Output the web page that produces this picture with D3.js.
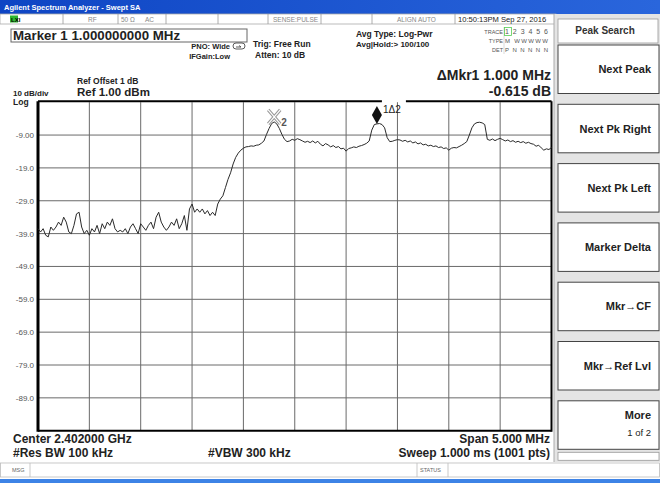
<!DOCTYPE html>
<html>
<head>
    <script src="https://d3js.org/d3.v7.min.js"></script>
    <style>
        body { margin: 0; background: #fff; }
        text { font-family: "Liberation Sans", Arial, sans-serif; }
        .bold { font-weight: bold; }
    </style>
</head>
<body>
    <svg width="660" height="483"></svg>

    <script>
        const width = 660, height = 483;
        const svg = d3.select("svg");

        // trace: 201 samples, 0.025 MHz apart, from 2399.5 MHz (dBm)
        const startMHz = 2399.5, stepMHz = 0.025;
        const traceLevel = [
            -37.5, -38.5, -37.5, -39.5, -40, -37, -38, -37, -35.5, -36.5,
            -34, -35.5, -38.5, -39, -36.5, -33, -32.5, -37, -39, -38,
            -39.5, -37.5, -38.5, -36.5, -39, -36, -37.5, -35.5, -36.5, -34.5,
            -37.5, -38.5, -38, -38.5, -37.5, -39, -37, -36, -37.5, -39,
            -36, -37, -38, -36.5, -35.5, -37.5, -34, -32.5, -35.5, -37,
            -38, -37, -35.5, -36.5, -34.5, -37.5, -36, -33.5, -38, -31.5,
            -30, -32.5, -31.5, -32.5, -31.5, -33, -32, -33.5, -32.5, -33.5,
            -30, -28.5, -27.5, -25, -22.5, -20.5, -17.8, -15.8, -14.5, -13.6,
            -13, -12.6, -12.5, -12.3, -12.4, -12.1, -12.0, -11.5, -10.8, -8.8,
            -7, -5.5, -5.0, -5.6, -7, -8.8, -10.3, -11, -10.8, -10.3,
            -10.6, -10.1, -10.4, -10.8, -11.2, -10.9, -11.3, -10.8, -11.4, -10.9,
            -11.8, -12.3, -11.6, -12, -12.6, -12.2, -12.8, -12.5, -13.2, -13,
            -13.9, -13.1, -12.9, -12.6, -12.8, -12.4, -12.2, -11.9, -11.5, -10.8,
            -7.5, -5.8, -5.6, -5.5, -5.8, -6.8, -9.8, -11, -10.9, -10.6,
            -10.4, -10.5, -10.9, -10.6, -11.1, -10.8, -11.4, -11.1, -11.7, -11.4,
            -12, -11.8, -12.3, -12.1, -12.5, -12.3, -12.8, -12.6, -13.1, -12.9,
            -13.6, -13, -12.8, -12.9, -12.5, -12.1, -11.6, -11, -9, -6.8,
            -5.6, -5.2, -5.1, -5.3, -5.8, -10.3, -10.6, -10.2, -10.7, -10.3,
            -10, -10.4, -10.8, -10.5, -11, -10.7, -11.2, -10.9, -11.3, -11,
            -11.5, -11.2, -11.6, -11.8, -12.4, -12.1, -12.9, -13.6, -13.2, -13.4,
            -12.8
        ];
        const trace = traceLevel.map((v, i) => ({ f: startMHz + i * stepMHz, v: v }));

        // grid and labels
        const freqGrid = [2400, 2400.5, 2401, 2401.5, 2402, 2402.5, 2403, 2403.5, 2404];
        const levelGrid = [-9, -19, -29, -39, -49, -59, -69, -79, -89];
        const levelLabels = ["-9.00", "-19.0", "-29.0", "-39.0", "-49.0", "-59.0", "-69.0", "-79.0", "-89.0"];

        // markers (index into trace)
        const markerIdx = { m1: 132, m2: 92 };

        const softkeys = ["Next Peak", "Next Pk Right", "Next Pk Left", "Marker Delta", "Mkr\u2192CF", "Mkr\u2192Ref Lvl"];

        const plot = { left: 38, right: 551.5, top: 102.2, bottom: 430.7 };
        const x = d3.scaleLinear().domain([2399.5, 2404.5]).range([plot.left, plot.right]);
        const y = d3.scaleLinear().domain([1, -99]).range([plot.top, plot.bottom]);

        // ---- title bar
        const grad = svg.append("defs").append("linearGradient").attr("id", "tb");
        grad.append("stop").attr("offset", "0%").attr("stop-color", "#0e45c4");
        grad.append("stop").attr("offset", "100%").attr("stop-color", "#2a66dc");
        svg.append("rect").attr("x", 0).attr("y", 0).attr("width", width).attr("height", 14).attr("fill", "url(#tb)");
        svg.append("text").attr("x", 4).attr("y", 10).attr("class", "bold")
            .attr("font-size", "7.5px").attr("fill", "#fff").text("Agilent Spectrum Analyzer - Swept SA");

        // ---- status row
        svg.append("rect").attr("x", 0).attr("y", 14).attr("width", 556).attr("height", 10)
            .attr("fill", "#fff").attr("stroke", "#aaa").attr("stroke-width", 0.8);
        svg.append("rect").attr("x", 10).attr("y", 15.5).attr("width", 8).attr("height", 7).attr("fill", "#2fb52f");
        svg.append("text").attr("x", 11).attr("y", 21.5).attr("font-size", "6px").attr("class", "bold").attr("fill", "#000").text("LXI");
        [63, 118, 166, 218, 268, 321, 372, 455].forEach(sx => {
            svg.append("line").attr("x1", sx).attr("x2", sx).attr("y1", 14).attr("y2", 24).attr("stroke", "#999").attr("stroke-width", 0.8);
        });
        const statusTexts = [
            { x: 88, t: "RF" }, { x: 121, t: "50 \u03a9" }, { x: 145, t: "AC" },
            { x: 273, t: "SENSE:PULSE" }, { x: 397, t: "ALIGN AUTO" }
        ];
        statusTexts.forEach(s => svg.append("text").attr("x", s.x).attr("y", 21.5)
            .attr("font-size", "6.5px").attr("fill", "#888").text(s.t));
        svg.append("text").attr("x", 458).attr("y", 21.5).attr("font-size", "7.6px").attr("fill", "#222")
            .text("10:50:13PM Sep 27, 2016");

        // ---- marker readout box
        svg.append("rect").attr("x", 11).attr("y", 29).attr("width", 236).attr("height", 13)
            .attr("fill", "#fff").attr("stroke", "#666").attr("stroke-width", 1);
        svg.append("text").attr("x", 13).attr("y", 40).attr("class", "bold").attr("font-size", "13.3px")
            .attr("fill", "#222").text("Marker 1 1.000000000 MHz");

        svg.append("text").attr("x", 230).attr("y", 49).attr("text-anchor", "end").attr("class", "bold")
            .attr("font-size", "7.5px").attr("fill", "#222").text("PNO: Wide");
        svg.append("text").attr("x", 230).attr("y", 59).attr("text-anchor", "end").attr("class", "bold")
            .attr("font-size", "7.5px").attr("fill", "#222").text("IFGain:Low");
        svg.append("rect").attr("x", 233).attr("y", 43).attr("width", 12).attr("height", 6).attr("rx", 3)
            .attr("fill", "none").attr("stroke", "#333").attr("stroke-width", 0.8);
        svg.append("path").attr("d", "M236,47 L241,47 L239,45.5").attr("fill", "none").attr("stroke", "#333").attr("stroke-width", 0.8);
        svg.append("text").attr("x", 253).attr("y", 47).attr("class", "bold")
            .attr("font-size", "8.5px").attr("fill", "#222").text("Trig: Free Run");
        svg.append("text").attr("x", 255).attr("y", 58).attr("class", "bold")
            .attr("font-size", "8.5px").attr("fill", "#222").text("Atten: 10 dB");

        svg.append("text").attr("x", 356).attr("y", 37).attr("class", "bold")
            .attr("font-size", "8.5px").attr("fill", "#222").text("Avg Type: Log-Pwr");
        svg.append("text").attr("x", 356).attr("y", 47).attr("class", "bold")
            .attr("font-size", "8px").attr("fill", "#222").text("Avg|Hold:> 100/100");

        // trace table
        const tt = [{ y: 34, l: "TRACE", v: "1 2 3 4 5 6" }, { y: 43, l: "TYPE", v: "M WWWWW" }, { y: 52, l: "DET", v: "P N N N N N" }];
        tt.forEach(r => {
            svg.append("text").attr("x", 503).attr("y", r.y).attr("text-anchor", "end")
                .attr("font-size", "5.5px").attr("fill", "#555").text(r.l);
            svg.append("text").attr("x", 505).attr("y", r.y).attr("font-size", r.y === 34 ? "7px" : "6px")
                .attr("fill", "#555").attr("textLength", 43).text(r.v);
        });
        svg.append("line").attr("x1", 504).attr("x2", 504).attr("y1", 27).attr("y2", 54).attr("stroke", "#ccc").attr("stroke-width", 0.7);
        svg.append("rect").attr("x", 504.5).attr("y", 27.5).attr("width", 7).attr("height", 8)
            .attr("fill", "none").attr("stroke", "#5c5").attr("stroke-width", 0.8);

        // ---- reference labels
        svg.append("text").attr("x", 13).attr("y", 96).attr("class", "bold").attr("font-size", "8px")
            .attr("fill", "#222").text("10 dB/div");
        svg.append("text").attr("x", 13).attr("y", 104.5).attr("class", "bold").attr("font-size", "8.5px")
            .attr("fill", "#222").text("Log");
        svg.append("text").attr("x", 77).attr("y", 84).attr("class", "bold").attr("font-size", "8.5px")
            .attr("fill", "#222").text("Ref Offset 1 dB");
        svg.append("text").attr("x", 77).attr("y", 96).attr("class", "bold").attr("font-size", "11.5px")
            .attr("fill", "#222").text("Ref 1.00 dBm");
        svg.append("text").attr("x", 551).attr("y", 80).attr("text-anchor", "end").attr("class", "bold")
            .attr("font-size", "14px").attr("fill", "#222").text("\u0394Mkr1 1.000 MHz");
        svg.append("text").attr("x", 551).attr("y", 96).attr("text-anchor", "end").attr("class", "bold")
            .attr("font-size", "14px").attr("fill", "#222").text("-0.615 dB");

        // ---- plot area
        svg.append("rect").attr("x", plot.left).attr("y", plot.top)
            .attr("width", plot.right - plot.left).attr("height", plot.bottom - plot.top).attr("fill", "#fff");

        svg.append("g").selectAll("line").data(freqGrid).enter().append("line")
            .attr("x1", d => x(d)).attr("x2", d => x(d))
            .attr("y1", plot.top).attr("y2", plot.bottom)
            .attr("stroke", "#6a6a6a").attr("stroke-width", 1);
        svg.append("g").selectAll("line").data(levelGrid).enter().append("line")
            .attr("x1", plot.left).attr("x2", plot.right)
            .attr("y1", d => y(d)).attr("y2", d => y(d))
            .attr("stroke", "#6a6a6a").attr("stroke-width", 1);
        svg.append("g").selectAll("text").data(levelGrid).enter().append("text")
            .attr("x", 34).attr("y", d => y(d) + 3)
            .attr("text-anchor", "end").attr("font-size", "8px").attr("fill", "#555")
            .text((d, i) => levelLabels[i]);

        // border
        const border = svg.append("g").attr("stroke", "#000").attr("fill", "none");
        border.append("line").attr("x1", plot.left).attr("x2", plot.left).attr("y1", plot.top - 1).attr("y2", plot.bottom + 1).attr("stroke-width", 3);
        border.append("line").attr("x1", plot.right).attr("x2", plot.right).attr("y1", plot.top - 1).attr("y2", plot.bottom + 1).attr("stroke-width", 2);
        border.append("line").attr("x1", plot.left).attr("x2", plot.right).attr("y1", plot.bottom).attr("y2", plot.bottom).attr("stroke-width", 2);
        const m1x = x(trace[markerIdx.m1].f);
        border.append("line").attr("x1", plot.left).attr("x2", m1x + 5).attr("y1", plot.top - 1).attr("y2", plot.top - 1).attr("stroke-width", 2);
        border.append("line").attr("x1", m1x + 29).attr("x2", plot.right).attr("y1", plot.top - 1).attr("y2", plot.top - 1).attr("stroke-width", 2);

        // trace
        const line = d3.line().x(d => x(d.f)).y(d => y(d.v));
        svg.append("path").datum(trace).attr("d", line)
            .attr("fill", "none").attr("stroke", "#2a2a2a").attr("stroke-width", 1);

        // marker 2 (hollow X)
        const m2 = trace[markerIdx.m2];
        const m2x = x(m2.f), m2y = y(m2.v) - 5;
        const xPath = `M${m2x - 6},${m2y - 7} L${m2x + 6},${m2y + 7} M${m2x + 6},${m2y - 7} L${m2x - 6},${m2y + 7}`;
        svg.append("path").attr("d", xPath).attr("stroke", "#999").attr("stroke-width", 3.2).attr("fill", "none");
        svg.append("path").attr("d", xPath).attr("stroke", "#fff").attr("stroke-width", 1.2).attr("fill", "none");
        svg.append("text").attr("x", m2x + 7).attr("y", m2y + 9).attr("class", "bold")
            .attr("font-size", "10px").attr("fill", "#555").text("2");

        // marker 1 (diamond)
        const m1 = trace[markerIdx.m1];
        const m1y = y(m1.v);
        svg.append("path")
            .attr("d", `M${m1x},${m1y} L${m1x - 5},${m1y - 9} L${m1x},${m1y - 18} L${m1x + 5},${m1y - 9} Z`)
            .attr("fill", "#111");
        svg.append("text").attr("x", m1x + 6).attr("y", m1y - 11).attr("font-size", "10px").attr("fill", "#222").text("1\u03942");

        // ---- bottom annotations
        const bottomTexts = [
            { x: 13, y: 443, t: "Center 2.402000 GHz", a: "start" },
            { x: 550, y: 443, t: "Span 5.000 MHz", a: "end" },
            { x: 13, y: 457, t: "#Res BW 100 kHz", a: "start" },
            { x: 208, y: 457, t: "#VBW 300 kHz", a: "start" },
            { x: 550, y: 457, t: "Sweep  1.000 ms (1001 pts)", a: "end" }
        ];
        bottomTexts.forEach(b => svg.append("text").attr("x", b.x).attr("y", b.y).attr("text-anchor", b.a)
            .attr("class", "bold").attr("font-size", "12px").attr("fill", "#222").text(b.t));

        // msg / status bar
        svg.append("rect").attr("x", 0.5).attr("y", 463).attr("width", 659).attr("height", 14)
            .attr("fill", "#fff").attr("stroke", "#bbb").attr("stroke-width", 0.8);
        [30, 417, 448].forEach(sx => svg.append("line").attr("x1", sx).attr("x2", sx).attr("y1", 463).attr("y2", 477)
            .attr("stroke", "#bbb").attr("stroke-width", 0.8));
        svg.append("text").attr("x", 12).attr("y", 472).attr("font-size", "5.5px").attr("fill", "#666").text("MSG");
        svg.append("text").attr("x", 420).attr("y", 472).attr("font-size", "5.5px").attr("fill", "#666").text("STATUS");
        svg.append("rect").attr("x", 0).attr("y", 479).attr("width", width).attr("height", 4).attr("fill", "#3d83e6");

        // ---- softkey panel
        svg.append("rect").attr("x", 554).attr("y", 14).attr("width", 106).attr("height", 448).attr("fill", "#e4e4e4");
        svg.append("line").attr("x1", 554).attr("x2", 554).attr("y1", 14).attr("y2", 462).attr("stroke", "#aaa");
        svg.append("rect").attr("x", 558).attr("y", 19).attr("width", 100).attr("height", 24)
            .attr("fill", "#fff").attr("stroke", "#999").attr("stroke-width", 0.8);
        svg.append("text").attr("x", 605).attr("y", 34).attr("text-anchor", "middle").attr("font-size", "10px")
            .attr("class", "bold").attr("fill", "#333").text("Peak Search");

        const keyTop = 45, keyStep = 59.3, keyH = 48.5;
        softkeys.forEach((k, i) => {
            const ky = keyTop + i * keyStep;
            svg.append("rect").attr("x", 558).attr("y", ky).attr("width", 101).attr("height", keyH)
                .attr("fill", "#fff").attr("stroke", "#444").attr("stroke-width", 1);
            svg.append("text").attr("x", 651).attr("y", ky + keyH / 2 + 4).attr("text-anchor", "end")
                .attr("class", "bold").attr("font-size", "11px").attr("fill", "#222").text(k);
        });
        const moreY = keyTop + softkeys.length * keyStep;
        svg.append("rect").attr("x", 558).attr("y", moreY).attr("width", 101).attr("height", keyH)
            .attr("fill", "#fff").attr("stroke", "#444").attr("stroke-width", 1);
        svg.append("text").attr("x", 651).attr("y", moreY + 18).attr("text-anchor", "end")
            .attr("class", "bold").attr("font-size", "11px").attr("fill", "#222").text("More");
        svg.append("text").attr("x", 651).attr("y", moreY + 35).attr("text-anchor", "end")
            .attr("font-size", "9.5px").attr("fill", "#222").text("1 of 2");
        svg.append("rect").attr("x", 558).attr("y", moreY + keyH + 3).attr("width", 101).attr("height", 8)
            .attr("fill", "#fff").attr("stroke", "#999").attr("stroke-width", 0.8);
    </script>
</body>
</html>
